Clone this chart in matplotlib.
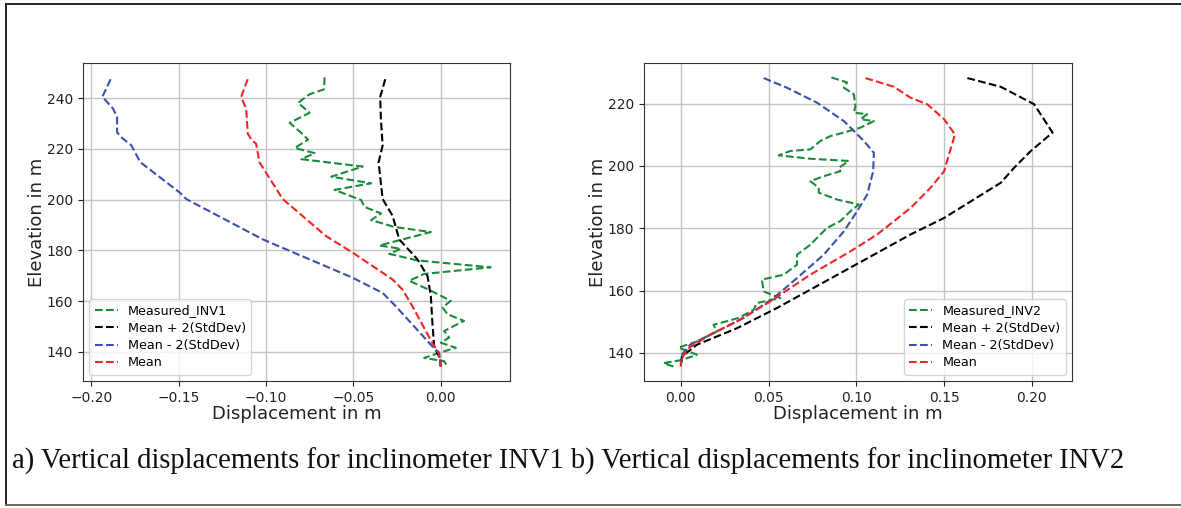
import matplotlib
matplotlib.use("Agg")
import matplotlib.pyplot as plt
from matplotlib.lines import Line2D

# ---------------- INV1 data ----------------
inv1_meas_x = [-0.0665, -0.0669, -0.0751, -0.0817, -0.0751, -0.0865, -0.0798, -0.0760, -0.0836, -0.0722,
               -0.0798, -0.0447, -0.0627, -0.0399, -0.0608, -0.0456, -0.0437, -0.0342, -0.0399, -0.0266,
               -0.0057, -0.0352, -0.0228, -0.0295, -0.0133, 0.0285, -0.0095, -0.0181, -0.0057, 0.0057,
               0.0010, 0.0038, 0.0133, 0.0019, 0.0048, 0.0000, 0.0086, -0.0010, -0.0095, 0.0019, 0.0038]
inv1_meas_y = [248.1, 243.4, 241.5, 238.1, 234.2, 230.2, 226.2, 223.6, 220.3, 218.3,
               215.9, 213.0, 209.0, 206.4, 203.8, 199.8, 197.1, 194.5, 191.9, 189.2,
               187.2, 181.9, 180.6, 178.6, 176.0, 173.3, 170.7, 168.0, 164.1, 160.1,
               157.5, 154.8, 152.2, 148.2, 145.6, 143.6, 141.6, 139.6, 137.6, 136.3, 134.3]

inv1_plus_x = [-0.0318, -0.0347, -0.0343, -0.0333, -0.0356, -0.0333, -0.0276, -0.0238, -0.0133, -0.0076,
               -0.0057, -0.0048, -0.0038, -0.0010, 0.0000]
inv1_plus_y = [247.4, 240.4, 231.8, 221.3, 214.7, 200.2, 193.6, 184.3, 176.4, 169.8,
               161.9, 151.3, 142.1, 138.2, 134.2]

inv1_minus_x = [-0.1890, -0.1937, -0.1876, -0.1853, -0.1853, -0.1830, -0.1771, -0.1720, -0.1495, -0.1457,
                -0.1019, -0.0505, -0.0333, -0.0257, -0.0048, -0.0010, 0.0000]
inv1_minus_y = [247.4, 240.5, 235.8, 232.5, 226.5, 224.6, 221.3, 214.7, 202.8, 200.2,
                184.3, 169.2, 163.2, 157.9, 142.1, 139.5, 134.2]

inv1_mean_x = [-0.1105, -0.1143, -0.1114, -0.1105, -0.1086, -0.1057, -0.1038, -0.0905, -0.0657, -0.0505,
               -0.0276, -0.0219, -0.0162, -0.0048, -0.0010, 0.0000]
inv1_mean_y = [247.4, 240.4, 235.8, 225.9, 223.9, 221.9, 214.7, 200.2, 185.6, 179.1,
               168.5, 164.5, 157.9, 143.4, 139.5, 134.2]

# ---------------- INV2 data ----------------
inv2_meas_x = [0.0858, 0.0948, 0.0929, 0.0986, 0.0995, 0.0986, 0.1062, 0.1024, 0.1100, 0.1024,
               0.0929, 0.0853, 0.0795, 0.0738, 0.0624, 0.0558, 0.0738, 0.0957, 0.0900, 0.0909,
               0.0814, 0.0738, 0.0786, 0.0786, 0.0891, 0.1014, 0.0967, 0.0909, 0.0833, 0.0795,
               0.0738, 0.0662, 0.0662, 0.0586, 0.0462, 0.0472, 0.0567, 0.0434, 0.0415, 0.0329,
               0.0186, 0.0206, 0.0091, -0.0013, 0.0091, 0.0006, -0.0099, -0.0042]
inv2_meas_y = [228.4, 226.8, 225.1, 223.0, 219.2, 217.1, 216.6, 215.0, 214.4, 212.3,
               210.7, 209.6, 208.0, 205.3, 204.8, 203.4, 202.3, 201.6, 199.4, 198.3,
               196.7, 195.1, 193.0, 191.4, 189.2, 187.6, 185.5, 182.3, 180.1, 178.0,
               174.7, 171.5, 168.3, 165.1, 163.5, 159.7, 157.6, 156.0, 153.8, 151.2,
               149.0, 146.9, 143.6, 141.7, 139.4, 137.7, 136.7, 135.6]

inv2_plus_x = [0.1633, 0.1823, 0.2013, 0.2118, 0.1994, 0.1899, 0.1823, 0.1500, 0.1309, 0.0929,
               0.0548, 0.0320, 0.0091, 0.0006, 0.0000]
inv2_plus_y = [228.2, 225.4, 219.8, 210.7, 204.8, 199.4, 194.6, 183.3, 178.0, 166.2,
               154.4, 147.9, 142.6, 138.8, 135.6]

inv2_minus_x = [0.0472, 0.0605, 0.0776, 0.0929, 0.1043, 0.1100, 0.1096, 0.1062, 0.1005, 0.0929,
                0.0814, 0.0662, 0.0529, 0.0358, 0.0206, 0.0053, 0.0006, 0.0000]
inv2_minus_y = [228.2, 225.1, 220.3, 214.4, 208.0, 204.2, 198.3, 190.8, 185.5, 179.0,
                171.5, 164.0, 157.6, 151.2, 146.9, 142.6, 139.4, 135.6]

inv2_mean_x = [0.1052, 0.1214, 0.1309, 0.1404, 0.1500, 0.1562, 0.1528, 0.1500, 0.1423, 0.1309,
               0.1119, 0.0967, 0.0738, 0.0510, 0.0320, 0.0167, 0.0044, 0.0000, 0.0000]
inv2_mean_y = [228.2, 225.4, 221.9, 219.8, 215.0, 210.1, 203.7, 198.3, 193.0, 186.5,
               178.0, 172.6, 165.1, 156.5, 150.1, 145.8, 141.5, 137.7, 135.6]

labels1 = ["Measured_INV1", "Mean + 2(StdDev)", "Mean - 2(StdDev)", "Mean"]
labels2 = ["Measured_INV2", "Mean + 2(StdDev)", "Mean - 2(StdDev)", "Mean"]
caption = "a) Vertical displacements for inclinometer INV1 b) Vertical displacements for inclinometer INV2"

C_GREEN = "#1b8a3a"
C_BLACK = "#000000"
C_BLUE = "#3c50aa"
C_RED = "#f02525"

fig = plt.figure(figsize=(11.81, 5.08), dpi=100)
fig.patch.set_facecolor("white")

# frame around the figure
W, H = 1181, 508
frame_kw = dict(color="#222222", lw=1.4, transform=fig.transFigure)
fig.add_artist(Line2D([6 / W, 1.0], [1 - 4 / H, 1 - 4 / H], **frame_kw))
fig.add_artist(Line2D([6 / W, 6 / W], [1 - 4 / H, 1 - 505 / H], **frame_kw))
fig.add_artist(Line2D([6 / W, 1.0], [1 - 505 / H, 1 - 505 / H], color="#666666", lw=1.4,
                      transform=fig.transFigure))

ax1 = fig.add_axes([83 / W, 1 - 381 / H, (510 - 83) / W, (381 - 63) / H])
ax2 = fig.add_axes([644 / W, 1 - 381 / H, (1072 - 644) / W, (381 - 63) / H])


def draw(ax, series, labels, loc):
    for (x, y, c), lab in zip(series, labels):
        ax.plot(x, y, linestyle="--", color=c, lw=1.5, label=lab)
    ax.grid(True, color="#c4c4c4", lw=1.0)
    ax.set_axisbelow(True)
    ax.set_xlabel("Displacement in m", fontsize=13, color="#222222", labelpad=0.5)
    ax.set_ylabel("Elevation in m", fontsize=13, color="#222222", labelpad=0.5)
    ax.tick_params(labelsize=10, colors="#222222")
    for s in ax.spines.values():
        s.set_color("#333333")
    ax.legend(loc=loc, fontsize=9.2, framealpha=0.8, edgecolor="#cccccc",
              handlelength=1.8, labelspacing=0.35)


draw(ax1, [(inv1_meas_x, inv1_meas_y, C_GREEN), (inv1_plus_x, inv1_plus_y, C_BLACK),
           (inv1_minus_x, inv1_minus_y, C_BLUE), (inv1_mean_x, inv1_mean_y, C_RED)],
     labels1, "lower left")
draw(ax2, [(inv2_meas_x, inv2_meas_y, C_GREEN), (inv2_plus_x, inv2_plus_y, C_BLACK),
           (inv2_minus_x, inv2_minus_y, C_BLUE), (inv2_mean_x, inv2_mean_y, C_RED)],
     labels2, "lower right")

ax1.set_xticks([-0.20, -0.15, -0.10, -0.05, 0.00])
ax1.set_yticks([140, 160, 180, 200, 220, 240])
ax2.set_xticks([0.00, 0.05, 0.10, 0.15, 0.20])
ax2.set_yticks([140, 160, 180, 200, 220])

fig.text(12 / W, 1 - 461 / H, caption, fontsize=20.6, family="Liberation Serif",
         va="center", ha="left", color="#111111")

fig.savefig("out.png", dpi=100)
